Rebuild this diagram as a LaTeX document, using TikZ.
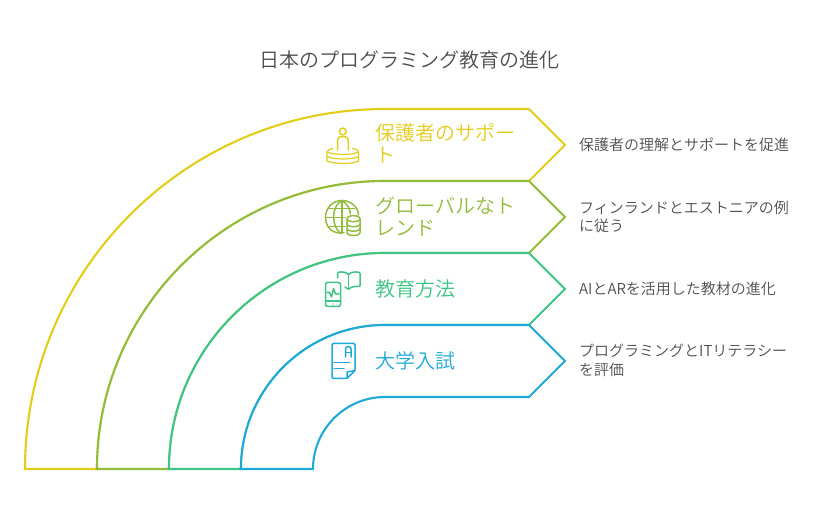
\documentclass[tikz,border=0pt]{standalone}
\usepackage{fontspec}
\setmainfont{Noto Sans CJK JP}[UprightFont=* DemiLight]
\definecolor{bandyellow}{HTML}{E2CD1B}
\definecolor{bandgreen}{HTML}{93BC3C}
\definecolor{bandteal}{HTML}{3EC484}
\definecolor{bandblue}{HTML}{1FA9D8}
\definecolor{textgrey}{HTML}{4D4D4D}
\tikzset{
  bandline/.style={draw=#1, fill=white, line width=2.1pt, line join=miter},
  iconline/.style={draw=#1, line width=1.5pt, line cap=round, line join=round},
  bandlabel/.style={anchor=west, align=left, inner sep=0pt, text=#1, font=\fontsize{20}{22}\selectfont},
  sidelabel/.style={anchor=west, align=left, inner sep=0pt, text=textgrey, font=\fontsize{15}{18.5}\selectfont},
}
\begin{document}
\begin{tikzpicture}[x=1pt, y=-1pt]
\useasboundingbox (0,0) rectangle (819,518);

% Titre
\node[text=textgrey, font=\fontsize{20}{24}\selectfont] (title) at (409.5,60) {日本のプログラミング教育の進化};

% Les bandes, de la plus grande à la plus petite
\path[bandline=bandyellow] (25,469) arc[start angle=180, end angle=270, radius=360] -- (529,109) -- (565,145) -- (529,181) -- (385,181) arc[start angle=270, end angle=180, radius=288] -- cycle;
\path[bandline=bandgreen] (97,469) arc[start angle=180, end angle=270, radius=288] -- (529,181) -- (565,217) -- (529,253) -- (385,253) arc[start angle=270, end angle=180, radius=216] -- cycle;
\path[bandline=bandteal] (169,469) arc[start angle=180, end angle=270, radius=216] -- (529,253) -- (565,289) -- (529,325) -- (385,325) arc[start angle=270, end angle=180, radius=144] -- cycle;
\path[bandline=bandblue] (241,469) arc[start angle=180, end angle=270, radius=144] -- (529,325) -- (565,361) -- (529,397) -- (385,397) arc[start angle=270, end angle=180, radius=72] -- cycle;

% Étiquettes des bandes
\node[bandlabel=bandyellow] (parents) at (375,143.5) {保護者のサポー\\ト};
\node[bandlabel=bandgreen] (trends) at (375,216.5) {グローバルなト\\レンド};
\node[bandlabel=bandteal] (methods) at (375,289) {教育方法};
\node[bandlabel=bandblue] (exams) at (375,361) {大学入試};

% Étiquettes de droite
\node[sidelabel] (parentsnote) at (579,145) {保護者の理解とサポートを促進};
\node[sidelabel] (trendsnote) at (579,217) {フィンランドとエストニアの例\\に従う};
\node[sidelabel] (methodsnote) at (579,289) {AIとARを活用した教材の進化};
\node[sidelabel] (examsnote) at (579,360.5) {プログラミングとITリテラシー\\を評価};

% Icône personne
\draw[iconline=bandyellow] (342.8,131.5) circle (3.4);
\draw[iconline=bandyellow] (337.5,150) -- (337.5,142) .. controls (337.5,137.5) and (339,136.5) .. (342.8,136.5) .. controls (346.6,136.5) and (348.3,137.5) .. (348.3,142) -- (348.3,150);
\draw[iconline=bandyellow, line width=1.2pt] (333,148.5) .. controls (329,149.5) and (327,150.5) .. (327,152) .. controls (334,155.3) and (352,155.3) .. (358.5,152) .. controls (358.5,150.5) and (357,149.5) .. (352.5,148.5);
\draw[iconline=bandyellow, line width=1.2pt] (327,152) -- (327,156.5) .. controls (334,159.8) and (352,159.8) .. (358.5,156.5) -- (358.5,152);
\draw[iconline=bandyellow, line width=1.2pt] (327,156.5) -- (327,161) .. controls (334,164.3) and (352,164.3) .. (358.5,161) -- (358.5,156.5);

% Icône globe et base de données
\draw[iconline=bandgreen] (344,232.5) .. controls (334,235) and (325.5,228) .. (325.5,217.5) .. controls (325.5,207.5) and (333,200.5) .. (342,200.5) .. controls (351,200.5) and (358.5,207.5) .. (358.5,215);
\draw[iconline=bandgreen] (342,200.5) .. controls (331,206) and (331,227) .. (341,233.5);
\draw[iconline=bandgreen] (342,200.5) .. controls (347.5,204) and (350,209) .. (350.5,214);
\draw[iconline=bandgreen] (342,200.5) -- (342,233);
\draw[iconline=bandgreen] (329,208.5) -- (355,208.5);
\draw[iconline=bandgreen] (326,217.5) -- (345,217.5);
\draw[iconline=bandgreen] (329,226.5) -- (345,226.5);
\draw[iconline=bandgreen] (347,219) .. controls (347,214.5) and (360,214.5) .. (360,219) -- (360,232.5) .. controls (360,236.5) and (347,236.5) .. (347,232.5) -- cycle;
\draw[iconline=bandgreen] (347,219) .. controls (347,222.5) and (360,222.5) .. (360,219);
\draw[iconline=bandgreen] (347,224) .. controls (347,227.5) and (360,227.5) .. (360,224);
\draw[iconline=bandgreen] (347,228.5) .. controls (347,232) and (360,232) .. (360,228.5);

% Icône téléphone et livre
\draw[iconline=bandteal, rounded corners=1.5] (325.5,282.5) rectangle (340.5,306.5);
\draw[iconline=bandteal] (325.5,301) -- (340.5,301);
\draw[iconline=bandteal] (327,292.5) -- (329.5,292.5) -- (331.5,297) -- (333.5,288.5) -- (335.5,294) -- (339,294);
\draw[iconline=bandteal] (333,304) -- (333,304);
\draw[iconline=bandteal, rounded corners=1] (337.5,278) -- (337.5,272.5) .. controls (342,271.5) and (346,272) .. (348.5,275) .. controls (351,272) and (355,271.5) .. (360,272.5) -- (360,286.5) .. controls (355,286) and (351,287) .. (348.5,289.5) -- (345,287);
\draw[iconline=bandteal] (348.5,275) -- (348.5,289.5);

% Icône copie d'examen
\draw[iconline=bandblue, rounded corners=1.2] (345.5,343.5) -- (332,343.5) -- (332,378.5) -- (347,378.5) -- (355,370.5) -- (355,343.5) -- (345.5,343.5);
\draw[iconline=bandblue] (347,378.5) -- (347,372) -- (355,370.5);
\draw[iconline=bandblue] (345.5,357) -- (345.5,349) .. controls (345.5,345.5) and (351,345.5) .. (351,349) -- (351,357);
\draw[iconline=bandblue] (345.5,352.5) -- (351,352.5);
\draw[iconline=bandblue] (334,362.5) -- (349.5,362.5);
\draw[iconline=bandblue] (334,368.5) -- (344,368.5);

\end{tikzpicture}
\end{document}
